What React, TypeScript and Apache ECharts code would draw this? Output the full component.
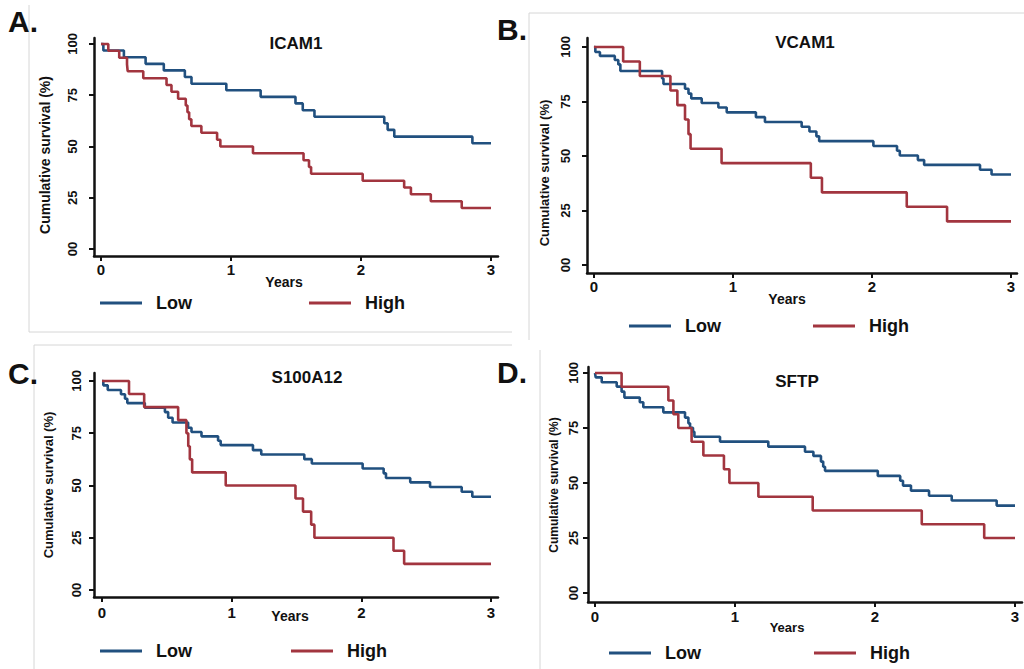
import React, { useEffect, useRef } from "react";
import * as echarts from "echarts";

const yearTicks = [0, 1, 2, 3];
const survivalTicks = [0, 25, 50, 75, 100];
const panelTitles = ["ICAM1", "VCAM1", "S100A12", "SFTP"];
const panelLetters = ["A.", "B.", "C.", "D."];
const groupNames = ["Low", "High"];
const xAxisName = "Years";
const yAxisName = "Cumulative survival (%)";

// A. ICAM1
const icamLowYears = [0, 0.018, 0.176, 0.343, 0.483, 0.645, 0.696, 0.964, 1.228, 1.496, 1.552, 1.642, 2.179, 2.205, 2.256, 2.857, 3];
const icamLowSurv = [100, 96.8, 93.5, 90.3, 87.1, 83.9, 80.6, 77.4, 74.2, 71.0, 67.7, 64.5, 61.3, 58.1, 54.8, 51.6, 51.6];
const icamHighYears = [0, 0.056, 0.14, 0.2, 0.205, 0.325, 0.504, 0.542, 0.593, 0.652, 0.665, 0.678, 0.695, 0.772, 0.893, 0.918, 1.169, 1.558, 1.6, 1.616, 2.013, 2.332, 2.384, 2.537, 2.775, 3];
const icamHighSurv = [100, 96.7, 93.3, 90.0, 86.7, 83.3, 80.0, 76.7, 73.3, 70.0, 66.7, 63.3, 60.0, 56.7, 53.3, 50.0, 46.7, 43.3, 40.0, 36.7, 33.3, 30.0, 26.7, 23.3, 20.0, 20.0];

// B. VCAM1
const vcamLowYears = [0, 0.01, 0.043, 0.15, 0.175, 0.19, 0.49, 0.5, 0.655, 0.68, 0.7, 0.775, 0.895, 0.955, 1.165, 1.23, 1.494, 1.55, 1.6, 1.62, 2.01, 2.18, 2.2, 2.33, 2.375, 2.777, 2.86, 3];
const vcamLowSurv = [100, 97.7, 95.9, 94.0, 92.0, 89.0, 85.5, 83.0, 80.8, 78.6, 76.4, 74.3, 72.2, 70.0, 67.8, 65.6, 63.4, 61.2, 59.0, 56.8, 54.6, 52.4, 50.2, 48.1, 45.9, 43.7, 41.5, 41.5];
const vcamHighYears = [0, 0.21, 0.33, 0.55, 0.6, 0.655, 0.68, 0.695, 0.918, 1.56, 1.64, 2.25, 2.54, 3];
const vcamHighSurv = [100, 93.3, 86.7, 80.0, 73.3, 66.7, 60.0, 53.3, 46.7, 40.0, 33.3, 26.7, 20.0, 20.0];

// C. S100A12
const s100LowYears = [0, 0.01, 0.044, 0.146, 0.177, 0.195, 0.33, 0.485, 0.51, 0.544, 0.664, 0.69, 0.767, 0.895, 0.915, 1.164, 1.228, 1.56, 1.618, 2.01, 2.172, 2.19, 2.377, 2.53, 2.774, 2.856, 3];
const s100LowSurv = [100, 97.9, 95.7, 93.6, 91.5, 89.4, 87.2, 85.1, 82.4, 80.1, 77.6, 75.6, 73.5, 71.4, 69.3, 66.9, 64.8, 62.6, 60.5, 58.1, 55.8, 53.6, 51.5, 49.3, 47.0, 44.6, 44.6];
const s100HighYears = [0, 0.208, 0.325, 0.587, 0.651, 0.665, 0.677, 0.695, 0.954, 1.492, 1.55, 1.613, 1.638, 2.248, 2.33, 3];
const s100HighSurv = [100, 93.75, 87.5, 81.25, 75, 68.75, 62.5, 56.25, 50, 43.75, 37.5, 31.25, 25, 18.75, 12.5, 12.5];

// D. SFTP
const sftpLowYears = [0, 0.005, 0.048, 0.155, 0.19, 0.21, 0.32, 0.345, 0.488, 0.643, 0.667, 0.679, 0.7, 0.71, 0.893, 1.238, 1.5, 1.56, 1.614, 1.63, 1.643, 2.02, 2.18, 2.2, 2.257, 2.386, 2.548, 2.869, 3];
const sftpLowSurv = [100, 98.0, 95.8, 93.8, 91.5, 88.8, 86.7, 84.4, 82.1, 79.7, 77.1, 75.1, 73.3, 71.0, 68.8, 66.5, 64.2, 62.3, 59.7, 57.4, 55.5, 53.2, 51.0, 48.8, 46.5, 44.2, 42.0, 39.7, 39.7];
const sftpHighYears = [0, 0.19, 0.524, 0.56, 0.595, 0.69, 0.774, 0.921, 0.96, 1.167, 1.555, 2.334, 2.78, 3];
const sftpHighSurv = [100, 93.75, 87.5, 81.25, 75, 68.75, 62.5, 56.25, 50, 43.75, 37.5, 31.25, 25, 25];

const panelData = [
  [[icamLowYears, icamLowSurv], [icamHighYears, icamHighSurv]],
  [[vcamLowYears, vcamLowSurv], [vcamHighYears, vcamHighSurv]],
  [[s100LowYears, s100LowSurv], [s100HighYears, s100HighSurv]],
  [[sftpLowYears, sftpLowSurv], [sftpHighYears, sftpHighSurv]],
];

const FONT = "'Liberation Sans', Arial, Helvetica, sans-serif";
const COLORS = ["#21507f", "#a2353f"];
const INK = "#111111";

const layouts = [
  { grid: { left: 94, top: 38, width: 404, height: 218 }, xr: [-0.054, 3.054], yr: [-3.41, 102.9], title: [296, 43], years: [284, 282, 14], yname: [45, 155, 14], letter: [8, 21], legend: { left: 100, top: 294, gap: 117 }, xm: 6, ym: 15 },
  { grid: { left: 587, top: 38, width: 430, height: 235 }, xr: [-0.05, 3.043], yr: [-3.67, 104.1], title: [805, 42], years: [787, 299, 14], yname: [544, 173, 13], letter: [497, 29], legend: { left: 629, top: 317, gap: 92 }, xm: 6, ym: 15 },
  { grid: { left: 94, top: 373, width: 404, height: 224 }, xr: [-0.062, 3.054], yr: [-3.35, 103.8], title: [307, 377], years: [290, 616, 14], yname: [48, 485, 13], letter: [8, 373], legend: { left: 100, top: 642, gap: 99 }, xm: 8, ym: 11 },
  { grid: { left: 588, top: 367, width: 434, height: 235 }, xr: [-0.05, 3.05], yr: [-4.1, 102.7], title: [797, 381], years: [787, 627, 13], yname: [554, 485, 12], letter: [497, 372], legend: { left: 609, top: 644, gap: 113 }, xm: 7, ym: 8 },
];

function txt(text: string, x: number, y: number, size: number, opts: any = {}) {
  return {
    type: "text",
    x,
    y,
    rotation: opts.rotation || 0,
    style: {
      text,
      fill: INK,
      fontSize: size,
      fontWeight: "bold",
      fontFamily: FONT,
      align: opts.align || "center",
      textAlign: opts.align || "center",
      verticalAlign: "middle",
      textVerticalAlign: "middle",
    },
  };
}

function line(x1: number, y1: number, x2: number, y2: number) {
  return {
    type: "line",
    shape: { x1, y1, x2, y2 },
    style: { stroke: "#d6d6d6", lineWidth: 1 },
    silent: true,
  };
}

export default function App() {
  const ref = useRef<HTMLDivElement>(null);

  useEffect(() => {
    if (!ref.current) return;
    const chart = echarts.init(ref.current, undefined, { renderer: "svg" });

    const grid: any[] = [];
    const xAxis: any[] = [];
    const yAxis: any[] = [];
    const series: any[] = [];
    const legend: any[] = [];
    const graphic: any[] = [
      line(29, 5, 29, 332),
      line(29, 332, 512, 332),
      line(529, 13, 1024, 13),
      line(529, 13, 529, 340),
      line(34, 345, 512, 345),
      line(34, 345, 34, 669),
      line(540, 350, 540, 669),
    ];

    layouts.forEach((L, i) => {
      grid.push({ ...L.grid, containLabel: false });
      xAxis.push({
        gridIndex: i,
        type: "value",
        min: L.xr[0],
        max: L.xr[1],
        axisLine: { show: true, onZero: false, lineStyle: { color: INK, width: 2.5 } },
        axisTick: { show: true, length: 5, lineStyle: { color: INK, width: 2 }, customValues: yearTicks },
        axisLabel: { customValues: yearTicks, margin: L.xm, fontSize: 15, fontWeight: "bold", color: INK, fontFamily: FONT },
        splitLine: { show: false },
      });
      yAxis.push({
        gridIndex: i,
        type: "value",
        min: L.yr[0],
        max: L.yr[1],
        axisLine: { show: true, onZero: false, lineStyle: { color: INK, width: 2.5 } },
        axisTick: { show: true, length: 5, lineStyle: { color: INK, width: 2 }, customValues: survivalTicks },
        axisLabel: {
          customValues: survivalTicks,
          rotate: 90,
          margin: L.ym,
          fontSize: 13,
          fontWeight: "bold",
          color: INK,
          fontFamily: FONT,
          formatter: (v: number) => (v === 0 ? "00" : String(v)),
        },
        splitLine: { show: false },
      });
      panelData[i].forEach(([years, surv], g) => {
        series.push({
          type: "line",
          name: groupNames[g],
          xAxisIndex: i,
          yAxisIndex: i,
          step: "end",
          showSymbol: false,
          symbol: "none",
          data: years.map((t: number, k: number) => [t, surv[k]]),
          lineStyle: { color: COLORS[g], width: 2.6 },
          itemStyle: { color: COLORS[g] },
          emphasis: { disabled: true },
        });
      });
      legend.push({
        left: L.legend.left,
        top: L.legend.top,
        padding: 0,
        orient: "horizontal",
        itemGap: L.legend.gap,
        itemWidth: 42,
        itemHeight: 3,
        icon: "rect",
        selectedMode: false,
        data: groupNames,
        textStyle: { fontSize: 18, fontWeight: "bold", color: INK, fontFamily: FONT, padding: [0, 0, 0, 9] },
      });
      graphic.push(txt(panelTitles[i], L.title[0], L.title[1], 17));
      graphic.push(txt(xAxisName, L.years[0], L.years[1], L.years[2]));
      graphic.push(txt(yAxisName, L.yname[0], L.yname[1], L.yname[2], { rotation: Math.PI / 2 }));
      graphic.push(txt(panelLetters[i], L.letter[0], L.letter[1], 30, { align: "left" }));
    });

    chart.setOption({
      animation: false,
      backgroundColor: "#ffffff",
      grid,
      xAxis,
      yAxis,
      series,
      legend,
      graphic,
    });

    return () => chart.dispose();
  }, []);

  return (
    <div
      ref={ref}
      style={{ position: "fixed", left: 0, top: 0, width: 1024, height: 669, background: "#fff" }}
    />
  );
}
